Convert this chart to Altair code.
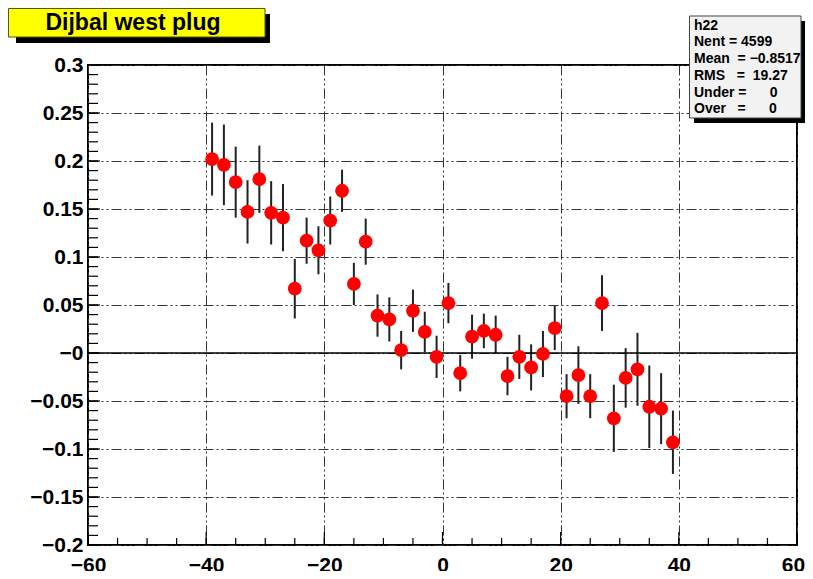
import altair as alt
import numpy as np
import pandas as pd

# ---- data ----
bin_centers = [-39, -37, -35, -33, -31, -29, -27, -25, -23, -21,
               -19, -17, -15, -13, -11, -9, -7, -5, -3, -1,
               1, 3, 5, 7, 9, 11, 13, 15, 17, 19,
               21, 23, 25, 27, 29, 31, 33, 35, 37, 39]
values = [0.202, 0.196, 0.178, 0.147, 0.181, 0.146, 0.141, 0.067, 0.117, 0.107,
          0.138, 0.169, 0.072, 0.116, 0.039, 0.035, 0.003, 0.044, 0.022, -0.004,
          0.052, -0.021, 0.017, 0.023, 0.019, -0.024, -0.004, -0.015, -0.001, 0.026,
          -0.045, -0.023, -0.045, 0.052, -0.068, -0.026, -0.017, -0.056, -0.058, -0.093]
errors = [0.038, 0.042, 0.037, 0.033, 0.035, 0.033, 0.035, 0.031, 0.024, 0.025,
          0.025, 0.022, 0.022, 0.024, 0.022, 0.023, 0.020, 0.022, 0.021, 0.022,
          0.021, 0.019, 0.023, 0.018, 0.020, 0.020, 0.023, 0.024, 0.024, 0.023,
          0.023, 0.030, 0.023, 0.029, 0.035, 0.031, 0.038, 0.043, 0.037, 0.033]

x_ticks = [-60, -40, -20, 0, 20, 40, 60]
y_ticks = [-0.2, -0.15, -0.1, -0.05, 0, 0.05, 0.1, 0.15, 0.2, 0.25, 0.3]

title_text = "Dijbal west plug"
stats_lines = ["h22",
               "Nent = 4599",
               "Mean\u00a0 = \u22120.8517",
               "RMS\u00a0\u00a0 = \u00a019.27",
               "Under =\u00a0\u00a0\u00a0\u00a0\u00a0\u00a00",
               "Over\u00a0\u00a0 =\u00a0\u00a0\u00a0\u00a0\u00a0\u00a00"]

df = pd.DataFrame({"x": bin_centers, "y": values, "e": errors})
df["lo"] = df["y"] - df["e"]
df["hi"] = df["y"] + df["e"]

W, H = 709, 480
FONT = "Liberation Sans"
GRID_DASH = [10, 3, 2, 3, 2, 3]

xscale = alt.Scale(domain=[-60, 60], nice=False, zero=False)
yscale = alt.Scale(domain=[-0.2, 0.3], nice=False, zero=False)

xaxis = alt.Axis(values=x_ticks, title=None, ticks=False, domain=False,
                 grid=True, gridDash=GRID_DASH, gridColor="#333333", gridWidth=1,
                 labelFontSize=21, labelFontWeight="bold", labelColor="black",
                 labelPadding=9, labelFlush=False, labelFont=FONT,
                 labelOffset={"condition": {"test": "datum.value == 60", "value": -4}, "value": 0})
yaxis = alt.Axis(values=y_ticks, title=None, ticks=False, domain=False,
                 grid=True, gridDash=GRID_DASH, gridColor="#333333", gridWidth=1,
                 labelFontSize=21, labelFontWeight="bold", labelColor="black",
                 labelPadding=5, labelFlush=False, labelFont=FONT,
                 labelExpr="datum.value == 0 ? '\u22120' : format(datum.value, '~g')")

base = alt.Chart(df)

errbars = base.mark_rule(color="#222222", strokeWidth=2).encode(
    x=alt.X("x:Q", scale=xscale, axis=xaxis),
    y=alt.Y("lo:Q", scale=yscale, axis=yaxis),
    y2="hi:Q",
)
points = base.mark_circle(color="#ff0000", opacity=1, size=190).encode(
    x=alt.X("x:Q", scale=xscale, title=None),
    y=alt.Y("y:Q", scale=yscale, title=None),
)

zero_line = alt.Chart(pd.DataFrame({"z": [0]})).mark_rule(color="black", strokeWidth=1.5).encode(
    y=alt.Y("z:Q", scale=yscale, title=None),
    x=alt.value(0), x2=alt.value(W),
)

# axis tick marks drawn inward (ROOT style)
xminor = pd.DataFrame({"t": np.arange(-60, 61, 5)})
xmajor = pd.DataFrame({"t": x_ticks})
yminor = pd.DataFrame({"t": np.round(np.arange(-0.2, 0.3001, 0.01), 3)})
xt = alt.Chart(xminor).mark_rule(color="black", strokeWidth=1.2).encode(
    x=alt.X("t:Q", scale=xscale, title=None), y=alt.value(H), y2=alt.value(H - 7))
xmaj = alt.Chart(xmajor).mark_rule(color="black", strokeWidth=1.2).encode(
    x=alt.X("t:Q", scale=xscale, title=None), y=alt.value(H), y2=alt.value(H - 13))
yt = alt.Chart(yminor).mark_rule(color="black", strokeWidth=1.2).encode(
    y=alt.Y("t:Q", scale=yscale, title=None), x=alt.value(0), x2=alt.value(10))
ymaj = alt.Chart(pd.DataFrame({"t": y_ticks})).mark_rule(color="black", strokeWidth=1.2).encode(
    y=alt.Y("t:Q", scale=yscale, title=None), x=alt.value(0), x2=alt.value(12))

dummy = alt.Chart(pd.DataFrame({"a": [0]}))

# title box
t_shadow = dummy.mark_rect(color="black").encode(
    x=alt.value(-72), x2=alt.value(182), y=alt.value(-51), y2=alt.value(-22))
t_box = dummy.mark_rect(color="#ffff00", stroke="#555500", strokeWidth=1).encode(
    x=alt.value(-79.5), x2=alt.value(177), y=alt.value(-56.5), y2=alt.value(-28))
t_text = dummy.mark_text(text=title_text, font=FONT, fontSize=23, fontWeight="bold",
                         align="center", baseline="middle", color="black").encode(
    x=alt.value(45), y=alt.value(-42))

# stats box
s_shadow = dummy.mark_rect(color="black").encode(
    x=alt.value(606), x2=alt.value(717), y=alt.value(-44), y2=alt.value(58))
s_box = dummy.mark_rect(color="#f2f2f2", stroke="#444444", strokeWidth=1).encode(
    x=alt.value(601.5), x2=alt.value(713), y=alt.value(-49), y2=alt.value(53))
s_texts = []
baselines = [-35, -19.5, -2.5, 14.5, 31.5, 48]
for line, by in zip(stats_lines, baselines):
    s_texts.append(dummy.mark_text(text=line, font=FONT, fontSize=14, fontWeight="bold",
                                   align="left", baseline="alphabetic", color="black").encode(
        x=alt.value(606), y=alt.value(by)))

chart = alt.layer(
    errbars, zero_line, xt, xmaj, yt, ymaj, points,
    t_shadow, t_box, t_text, s_shadow, s_box, *s_texts
).properties(
    width=W, height=H,
    autosize=alt.AutoSizeParams(type="none"),
    padding={"left": 80, "top": 57, "right": 8, "bottom": 26},
    background="white",
).configure_view(
    stroke="black", strokeWidth=2
)

chart.save("out.html", embed_options={"renderer": "svg", "actions": False})
